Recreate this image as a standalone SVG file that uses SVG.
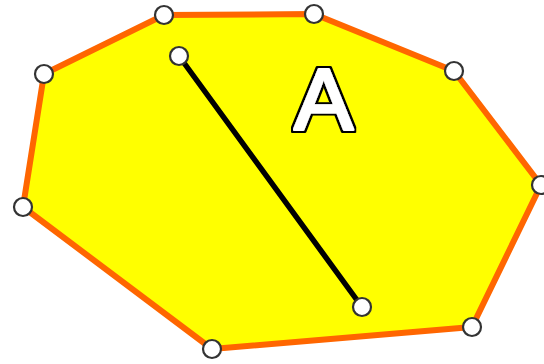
<svg xmlns="http://www.w3.org/2000/svg" width="544" height="364" viewBox="0 0 544 364">
<style>
.poly{fill:#ffff00;stroke:#ff6600;stroke-width:6;stroke-linejoin:round}
.seg{stroke:#000;stroke-width:5.5;stroke-linecap:round}
.pt{fill:#fff;stroke:#333;stroke-width:2.2}
.lbl{font-family:"Liberation Sans",Arial,sans-serif;font-size:88px;fill:#fff;stroke:#fff;stroke-width:3;stroke-linejoin:round;stroke-linecap:round;filter:url(#outline)}
</style>
<defs>
<filter id="outline" x="-20%" y="-20%" width="140%" height="140%">
<feMorphology in="SourceAlpha" operator="dilate" radius="1.6" result="d"/>
<feFlood flood-color="#000"/>
<feComposite in2="d" operator="in" result="o"/>
<feMerge><feMergeNode in="o"/><feMergeNode in="SourceGraphic"/></feMerge>
</filter>
</defs>
<g id="shape">
<polygon class="poly" points="44,74 164,15 314,14 454,71 541,185 472,327 212,349 23,207"/>
</g>
<g id="connectors">
<line class="seg" x1="179" y1="56" x2="362" y2="307"/>
</g>
<g id="label">
<text class="lbl" x="323.5" y="130" text-anchor="middle">A</text>
</g>
<g id="vertices">
<circle class="pt" cx="44" cy="74" r="9"/>
<circle class="pt" cx="164" cy="15" r="9"/>
<circle class="pt" cx="314" cy="14" r="9"/>
<circle class="pt" cx="454" cy="71" r="9"/>
<circle class="pt" cx="541" cy="185" r="9"/>
<circle class="pt" cx="472" cy="327" r="9"/>
<circle class="pt" cx="212" cy="349" r="9"/>
<circle class="pt" cx="23" cy="207" r="9"/>
<circle class="pt" cx="179" cy="56" r="9"/>
<circle class="pt" cx="362" cy="307" r="9"/>
</g>
</svg>
